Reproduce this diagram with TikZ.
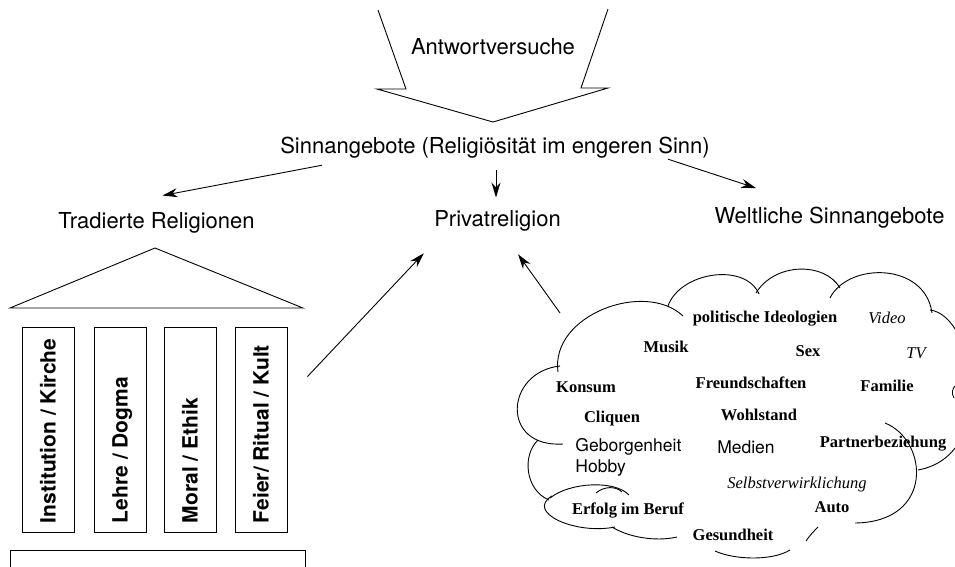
\documentclass[tikz,border=0pt]{standalone}
\usepackage{fontspec}
\setmainfont{Liberation Serif}
\setsansfont{TeX Gyre Heros}
\usetikzlibrary{arrows.meta,calc}
\tikzset{
  arr/.style={-{Stealth[length=15pt,width=9pt]},line width=0.9pt},
  lbl/.style={font=\sffamily\fontsize{22}{26}\selectfont,inner sep=0pt,anchor=base},
  pillar/.style={draw,line width=0.9pt,minimum width=52pt,minimum height=205pt,inner sep=0pt},
  pilltext/.style={font=\sffamily\bfseries\fontsize{21}{24}\selectfont,rotate=90,anchor=base west,inner sep=0pt},
  wort/.style={font=\rmfamily\bfseries\fontsize{16.5}{19}\selectfont,inner sep=0pt,anchor=base},
  wortit/.style={font=\rmfamily\itshape\fontsize{16.5}{19}\selectfont,inner sep=0pt,anchor=base},
  wortsf/.style={font=\sffamily\fontsize{17.5}{20}\selectfont,inner sep=0pt,anchor=base},
}
\begin{document}
\begin{tikzpicture}[x=1pt,y=-1pt,line width=0.9pt]
    \useasboundingbox (0,0) rectangle (955,566);
    \clip (0,0) rectangle (955,566);

    % 大箭头
    \draw (378,10) -- (406,89) -- (377,89) -- (493,122) -- (608,88) -- (581,88) -- (608,9);
    \node[lbl] (antw) at (493,54) {Antwortversuche};

    % 三个分支
    \node[lbl] (sinn) at (495,153) {Sinnangebote (Religiösität im engeren Sinn)};
    \node[lbl] (trad) at (156.5,228) {Tradierte Religionen};
    \node[lbl] (priv) at (497.5,226) {Privatreligion};
    \node[lbl] (welt) at (829.5,223) {Weltliche Sinnangebote};
    \draw[arr] ($(sinn.south west)+(42,7)$) -- ($(trad.north)+(6,-16)$);
    \draw[arr] ($(sinn.south)+(1,12)$) -- ($(priv.north)+(-1.5,-12)$);
    \draw[arr] ($(sinn.south east)+(-42,1)$) -- ($(welt.north west)+(42,-18)$);

    % 神殿
    \draw (10,308) -- (155,248) -- (303,308) -- cycle;
    \node[pillar] (p1) at (48,429.5) {};
    \node[pillar] (p2) at (120,429.5) {};
    \node[pillar] (p3) at (190,429.5) {};
    \node[pillar] (p4) at (261,429.5) {};
    \node[pilltext] (t1) at ($(p1.south)+(7.5,-9)$) {Institution / Kirche};
    \node[pilltext] (t2) at ($(p2.south)+(7.5,-9)$) {Lehre / Dogma};
    \node[pilltext] (t3) at ($(p3.south)+(7.5,-9)$) {Moral / Ethik};
    \node[pilltext] (t4) at ($(p4.south)+(7.5,-9)$) {Feier/ Ritual / Kult};
    \draw (10,550) rectangle (305,580);
    \draw[arr] ($(p4.north east)+(20,50)$) -- ($(priv.south west)+(-10,22)$);

    % 云
    \coordinate (wolke) at (560,313);
    \draw[arr] (wolke) -- ($(priv.south)+(20.5,23)$);
    \draw (558,372) .. controls (550,315) and (645,280) .. (683,316);
    \draw (668,306) .. controls (680,272) and (745,262) .. (759,294);
    \draw (756,293) .. controls (775,262) and (825,262) .. (840,288);
    \draw (830,298) .. controls (848,262) and (925,262) .. (932,313);
    \draw (930,310) .. controls (975,315) and (1000,455) .. (918,470);
    \draw (957,384) .. controls (952,388) and (951,393) .. (954,398);
    \draw (885,423) .. controls (928,440) and (935,522) .. (855,523);
    \draw (806,541) .. controls (810,535) and (814,531) .. (818,527);
    \draw (715,551) .. controls (735,560) and (772,561) .. (790,550);
    \draw (677,537) .. controls (655,542) and (628,537) .. (612,527);
    \draw (615,527) .. controls (575,535) and (525,512) .. (552,496);
    \draw (550,498) .. controls (570,482) and (615,480) .. (629,495);
    \draw (596,493) .. controls (604,486) and (616,486) .. (622,492);
    \draw (538,440) .. controls (522,455) and (525,490) .. (549,500);
    \draw (560,366) .. controls (505,372) and (500,448) .. (563,444);

    % 云中的词
    \node[wort] (ideo) at (765,322) {politische Ideologien};
    \node[wortit] (video) at (887,323) {Video};
    \node[wort] (musik) at (666,352) {Musik};
    \node[wort] (sex) at (808,356) {Sex};
    \node[wortit] (tv) at (916,358) {TV};
    \node[wort] (konsum) at (586,392) {Konsum};
    \node[wort] (freund) at (751,388) {Freundschaften};
    \node[wort] (familie) at (887,391) {Familie};
    \node[wort] (cliquen) at (612,422) {Cliquen};
    \node[wort] (wohl) at (759,420) {Wohlstand};
    \node[wortsf,anchor=base west] (gebor) at (575,451) {Geborgenheit};
    \node[wortsf,anchor=base west] (hobby) at (575,472) {Hobby};
    \node[wortsf] (medien) at (746,453) {Medien};
    \node[wort] (partner) at (883,447) {Partnerbeziehung};
    \node[wortit] (selbst) at (797,488) {Selbstverwirklichung};
    \node[wort] (erfolg) at (628,514) {Erfolg im Beruf};
    \node[wort] (auto) at (832,512) {Auto};
    \node[wort] (gesund) at (733,540) {Gesundheit};
\end{tikzpicture}
\end{document}
